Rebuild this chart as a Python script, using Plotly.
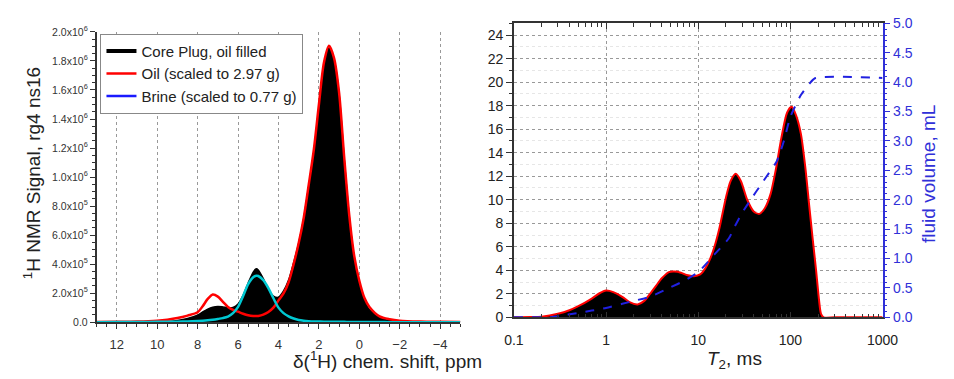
import plotly.graph_objects as go

# ---------------- Left panel: 1H NMR spectra ----------------
ppm = [13, 12, 11, 10, 9.5, 9, 8.5, 8, 7.75, 7.5, 7.25, 7, 6.75, 6.5, 6.25, 6,
       5.75, 5.5, 5.25, 5.1, 5, 4.75, 4.5, 4.25, 4, 3.75, 3.5, 3.25, 3, 2.75,
       2.5, 2.25, 2, 1.75, 1.5, 1.25, 1, 0.75, 0.5, 0.25, 0, -0.25, -0.5, -1,
       -1.5, -2, -3, -4, -5]
core_plug = [0, 0, 1000, 3000, 6000, 12000, 25000, 48000, 70000, 90000, 103000,
             108000, 105000, 100000, 102000, 125000, 185000, 270000, 345000,
             368000, 360000, 300000, 225000, 180000, 172000, 215000, 290000,
             410000, 545000, 715000, 940000, 1175000, 1480000, 1770000, 1890000,
             1810000, 1570000, 1130000, 730000, 440000, 270000, 150000, 85000,
             30000, 12000, 5000, 2000, 1000, 0]
oil = [1000, 2000, 4000, 10000, 17000, 28000, 45000, 68000, 110000, 160000,
       190000, 176000, 140000, 105000, 85000, 72000, 58000, 47000, 42000, 42000,
       43000, 52000, 70000, 100000, 150000, 198000, 275000, 400000, 545000,
       720000, 950000, 1190000, 1500000, 1790000, 1905000, 1820000, 1580000,
       1140000, 740000, 455000, 285000, 168000, 105000, 40000, 20000, 10000,
       4000, 2000, 1000]
brine = [0, 1000, 1000, 2000, 2000, 3000, 5000, 8000, 10000, 13000, 17000, 22000,
         28000, 38000, 62000, 105000, 180000, 262000, 310000, 320000, 318000,
         290000, 235000, 165000, 100000, 62000, 40000, 25000, 15000, 10000, 7000,
         5000, 4000, 3000, 3000, 2000, 2000, 2000, 1000, 1000, 1000, 1000, 1000,
         1000, 0, 0, 0, 0, 0]

nmr_yticks = [0, 2e5, 4e5, 6e5, 8e5, 1.0e6, 1.2e6, 1.4e6, 1.6e6, 1.8e6, 2.0e6]
nmr_yticktext = ["0.0", "2.0x10<sup>5</sup>", "4.0x10<sup>5</sup>", "6.0x10<sup>5</sup>",
                 "8.0x10<sup>5</sup>", "1.0x10<sup>6</sup>", "1.2x10<sup>6</sup>",
                 "1.4x10<sup>6</sup>", "1.6x10<sup>6</sup>", "1.8x10<sup>6</sup>",
                 "2.0x10<sup>6</sup>"]
nmr_xticks = [12, 10, 8, 6, 4, 2, 0, -2, -4]

legend_names = ["Core Plug, oil filled", "Oil (scaled to 2.97 g)", "Brine (scaled to 0.77 g)"]
legend_colors = ["#000000", "#ff0000", "#1a1aff"]

# ---------------- Right panel: T2 distribution ----------------
t2_ms = [0.1, 0.15, 0.2, 0.3, 0.4, 0.5, 0.7, 0.85, 1.0, 1.2, 1.5, 1.8, 2.2, 2.6,
         3.0, 3.5, 4.0, 4.8, 5.5, 6.5, 7.5, 9.0, 10.5, 12, 13.5, 15, 17, 20, 22.5,
         25.5, 29, 34, 40, 46, 53, 61, 70, 80, 92, 103, 115, 130, 145, 160, 175,
         190, 205, 215, 230, 300, 1000]
t2_amp = [0, 0.02, 0.06, 0.3, 0.6, 0.95, 1.6, 2.05, 2.28, 2.15, 1.75, 1.3, 1.1,
          1.4, 2.0, 2.7, 3.3, 3.85, 3.9, 3.8, 3.6, 3.5, 3.65, 4.2, 5.0, 6.0, 7.6,
          10.2, 11.6, 12.2, 11.6, 10.0, 9.0, 8.8, 9.3, 10.5, 12.7, 15.3, 17.4,
          17.9, 17.2, 15.6, 12.8, 9.5, 6.6, 4.0, 1.4, 0.3, 0, 0, 0]
cum_t2 = [0.1, 0.2, 0.25, 0.3, 0.5, 0.7, 1, 1.5, 2, 3, 5, 7, 10, 15, 21.6, 25, 30,
          36, 50, 60, 71, 85, 100, 130, 160, 187, 1000]
cum_ml = [0, 0, 0, 0.02, 0.076, 0.115, 0.16, 0.23, 0.28, 0.35, 0.51, 0.62, 0.77,
          1.07, 1.35, 1.55, 1.78, 1.97, 2.3, 2.48, 2.65, 3.0, 3.41, 3.78, 3.97,
          4.07, 4.07]

t2_xticks = [0.1, 1, 10, 100, 1000]
t2_xticktext = ["0.1", "1", "10", "100", "1000"]
t2_minor_ticks = [0.2, 0.3, 0.4, 0.5, 0.6, 0.7, 0.8, 0.9,
                  2, 3, 4, 5, 6, 7, 8, 9,
                  20, 30, 40, 50, 60, 70, 80, 90,
                  200, 300, 400, 500, 600, 700, 800, 900]

FONT = "Arial, Liberation Sans, sans-serif"
AXC = "#333333"
BLUE = "#3030d8"

fig = go.Figure()

# left panel traces
fig.add_trace(go.Scatter(x=ppm, y=core_plug, mode="lines", fill="tozeroy",
                         fillcolor="black", line=dict(color="black", width=1.5, shape="spline", smoothing=0.8),
                         showlegend=False, xaxis="x", yaxis="y"))
fig.add_trace(go.Scatter(x=ppm, y=oil, mode="lines",
                         line=dict(color="#ff0000", width=2.5, shape="spline", smoothing=0.8),
                         showlegend=False, xaxis="x", yaxis="y"))
fig.add_trace(go.Scatter(x=ppm, y=brine, mode="lines",
                         line=dict(color="#00c8d2", width=2.5, shape="spline", smoothing=0.8),
                         showlegend=False, xaxis="x", yaxis="y"))
for nm, col in zip(legend_names, legend_colors):
    fig.add_trace(go.Scatter(x=[None], y=[None], mode="lines", name=nm,
                             line=dict(color=col, width=4 if col == "#000000" else 2.5),
                             xaxis="x", yaxis="y"))

# right panel traces
fig.add_trace(go.Scatter(x=t2_ms, y=t2_amp, mode="lines", fill="tozeroy",
                         fillcolor="black", line=dict(color="#ff0000", width=2, shape="spline", smoothing=0.7),
                         showlegend=False, xaxis="x2", yaxis="y2"))
fig.add_trace(go.Scatter(x=cum_t2, y=cum_ml, mode="lines",
                         line=dict(color="#2020e0", width=2, dash="dash", shape="spline", smoothing=0.6),
                         showlegend=False, xaxis="x2", yaxis="y3"))

fig.update_layout(
    width=954, height=379,
    margin=dict(l=0, r=0, t=0, b=0),
    paper_bgcolor="white", plot_bgcolor="white",
    font=dict(family=FONT, color="#222222"),
    showlegend=True,
    legend=dict(x=93 / 954, y=1 - 27 / 379, xanchor="left", yanchor="top",
                bgcolor="white", bordercolor="#888888", borderwidth=1,
                font=dict(size=15, family=FONT, color="#222"),
                tracegroupgap=0, itemwidth=30),
    xaxis=dict(domain=[89 / 954, 463 / 954], range=[13, -5], anchor="y",
               tickvals=nmr_xticks, ticks="outside", ticklen=5, tickcolor=AXC,
               showline=True, linecolor=AXC, linewidth=1.5, zeroline=False,
               showgrid=True, gridcolor="#999999", griddash="dot", gridwidth=1,
               tickfont=dict(size=13, color="#333"), ticklabelstandoff=4,
               minor=dict(dtick=0.5, tick0=0, ticks="outside", ticklen=3, tickcolor=AXC, showgrid=False)),
    yaxis=dict(domain=[1 - 328 / 379, 1 - 25 / 379], range=[0, 2.0e6], anchor="x",
               tickvals=nmr_yticks, ticktext=nmr_yticktext, ticks="outside", ticklen=5,
               tickcolor=AXC, showline=True, linecolor=AXC, linewidth=1.5,
               zeroline=False, showgrid=False, tickfont=dict(size=10.5, color="#333"),
               minor=dict(dtick=5e4, tick0=0, ticks="outside", ticklen=3, tickcolor=AXC)),
    xaxis2=dict(domain=[518 / 954, 897 / 954], type="log", range=[-1, 3], anchor="y2",
                tickvals=t2_xticks, ticktext=t2_xticktext, ticks="inside", ticklen=6,
                tickcolor=AXC, showline=True, linecolor=AXC, linewidth=1.5, mirror="ticks",
                showgrid=True, gridcolor="#999999", griddash="dot", gridwidth=1,
                tickfont=dict(size=14, color="#222"), ticklabelstandoff=9,
                minor=dict(tickmode="array", tickvals=t2_minor_ticks, ticks="inside",
                           ticklen=4, tickcolor=AXC, showgrid=False)),
    yaxis2=dict(domain=[1 - 323 / 379, 1 - 16 / 379], range=[0, 25], anchor="x2",
                dtick=2, tick0=0, ticks="outside", ticklen=6, tickcolor=AXC,
                showline=True, linecolor=AXC, linewidth=1.5, zeroline=False,
                showgrid=True, gridcolor="#999999", griddash="dot", gridwidth=1,
                tickfont=dict(size=14, color="#222"),
                minor=dict(dtick=1, tick0=0, ticks="outside", ticklen=3, tickcolor=AXC,
                           showgrid=True, gridcolor="#e6e6e6", gridwidth=1)),
    yaxis3=dict(overlaying="y2", side="right", anchor="x2", range=[0, 5],
                dtick=0.5, tick0=0, tickformat=".1f", ticks="outside", ticklen=6,
                tickcolor=BLUE, showline=True, linecolor=BLUE, linewidth=1.5,
                zeroline=False, showgrid=False, tickfont=dict(size=14, color=BLUE),
                minor=dict(dtick=0.1, tick0=0, ticks="outside", ticklen=3, tickcolor=BLUE)),
    annotations=[
        dict(text="<sup>1</sup>H NMR Signal, rg4 ns16", x=22 / 954, y=1 - 172 / 379,
             xref="paper", yref="paper", xanchor="center", yanchor="middle",
             textangle=-90, showarrow=False, font=dict(size=19, color="#222")),
        dict(text="δ(<sup>1</sup>H) chem. shift, ppm", x=388 / 954, y=1 - 368 / 379,
             xref="paper", yref="paper", xanchor="center", yanchor="middle",
             showarrow=False, font=dict(size=19, color="#222")),
        dict(text="<i>T</i><sub>2</sub>, ms", x=745 / 954, y=1 - 367 / 379,
             xref="paper", yref="paper", xanchor="center", yanchor="middle",
             showarrow=False, font=dict(size=19, color="#222")),
        dict(text="fluid volume, mL", x=944 / 954, y=1 - 173 / 379,
             xref="paper", yref="paper", xanchor="center", yanchor="middle",
             textangle=-90, showarrow=False, font=dict(size=19, color=BLUE)),
    ],
)

fig.write_html("out.html")
